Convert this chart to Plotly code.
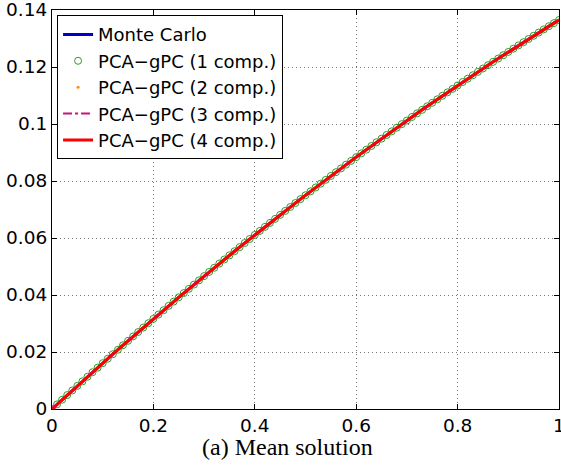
import plotly.graph_objects as go

x_vals = [0.00, 0.01, 0.02, 0.03, 0.04, 0.05, 0.06, 0.07, 0.08, 0.09,
          0.10, 0.11, 0.12, 0.13, 0.14, 0.15, 0.16, 0.17, 0.18, 0.19,
          0.20, 0.21, 0.22, 0.23, 0.24, 0.25, 0.26, 0.27, 0.28, 0.29,
          0.30, 0.31, 0.32, 0.33, 0.34, 0.35, 0.36, 0.37, 0.38, 0.39,
          0.40, 0.41, 0.42, 0.43, 0.44, 0.45, 0.46, 0.47, 0.48, 0.49,
          0.50, 0.51, 0.52, 0.53, 0.54, 0.55, 0.56, 0.57, 0.58, 0.59,
          0.60, 0.61, 0.62, 0.63, 0.64, 0.65, 0.66, 0.67, 0.68, 0.69,
          0.70, 0.71, 0.72, 0.73, 0.74, 0.75, 0.76, 0.77, 0.78, 0.79,
          0.80, 0.81, 0.82, 0.83, 0.84, 0.85, 0.86, 0.87, 0.88, 0.89,
          0.90, 0.91, 0.92, 0.93, 0.94, 0.95, 0.96, 0.97, 0.98, 0.99,
          1.00]

mean_monte_carlo = [0.00000, 0.00163, 0.00326, 0.00488, 0.00650, 0.00811, 0.00971, 0.01131, 0.01291, 0.01450,
                    0.01608, 0.01766, 0.01923, 0.02080, 0.02236, 0.02392, 0.02547, 0.02701, 0.02856, 0.03009,
                    0.03162, 0.03314, 0.03466, 0.03618, 0.03768, 0.03919, 0.04068, 0.04218, 0.04366, 0.04514,
                    0.04662, 0.04809, 0.04956, 0.05101, 0.05247, 0.05392, 0.05536, 0.05680, 0.05823, 0.05966,
                    0.06108, 0.06250, 0.06391, 0.06531, 0.06671, 0.06811, 0.06950, 0.07088, 0.07226, 0.07363,
                    0.07500, 0.07636, 0.07772, 0.07907, 0.08042, 0.08176, 0.08309, 0.08442, 0.08575, 0.08707,
                    0.08838, 0.08969, 0.09099, 0.09229, 0.09358, 0.09487, 0.09615, 0.09742, 0.09870, 0.09996,
                    0.10122, 0.10247, 0.10372, 0.10497, 0.10621, 0.10744, 0.10866, 0.10989, 0.11110, 0.11231,
                    0.11352, 0.11472, 0.11592, 0.11710, 0.11829, 0.11947, 0.12064, 0.12181, 0.12297, 0.12413,
                    0.12528, 0.12643, 0.12757, 0.12870, 0.12983, 0.13096, 0.13208, 0.13319, 0.13430, 0.13540,
                    0.13650]

# PCA-gPC approximations coincide with the Monte Carlo mean at plot resolution
mean_pca_1 = list(mean_monte_carlo)
mean_pca_2 = list(mean_monte_carlo)
mean_pca_3 = list(mean_monte_carlo)
mean_pca_4 = list(mean_monte_carlo)

x_ticks = [0, 0.2, 0.4, 0.6, 0.8, 1]
x_tick_text = ["0", "0.2", "0.4", "0.6", "0.8", "1"]
y_ticks = [0, 0.02, 0.04, 0.06, 0.08, 0.1, 0.12, 0.14]
y_tick_text = ["0", "0.02", "0.04", "0.06", "0.08", "0.1", "0.12", "0.14"]

SANS = "DejaVu Sans, Liberation Sans, Arial, sans-serif"

fig = go.Figure()
fig.add_trace(go.Scatter(x=x_vals, y=mean_monte_carlo, mode="lines", name="Monte Carlo",
                         line=dict(color="#0000c8", width=3)))
fig.add_trace(go.Scatter(x=x_vals, y=mean_pca_1, mode="markers", name="PCA\u2212gPC (1 comp.)",
                         marker=dict(symbol="circle-open", size=7, color="#2e9a2e", line=dict(width=1))))
fig.add_trace(go.Scatter(x=x_vals, y=mean_pca_2, mode="markers", name="PCA\u2212gPC (2 comp.)",
                         marker=dict(symbol="circle", size=3, color="#ff8c1a")))
fig.add_trace(go.Scatter(x=x_vals, y=mean_pca_3, mode="lines", name="PCA\u2212gPC (3 comp.)",
                         line=dict(color="#c8137a", width=2, dash="dashdot")))
fig.add_trace(go.Scatter(x=x_vals, y=mean_pca_4, mode="lines", name="PCA\u2212gPC (4 comp.)",
                         line=dict(color="#ff0000", width=3)))

axis_common = dict(
    showline=True, linecolor="black", linewidth=1, mirror="ticks",
    ticks="inside", ticklen=5, tickcolor="black",
    showgrid=True, gridcolor="#777777", griddash="1px,3px", gridwidth=1,
    zeroline=False, ticklabeloverflow="allow",
    tickfont=dict(family=SANS, size=18.5, color="black"),
)

fig.update_xaxes(range=[0, 1], tickvals=x_ticks, ticktext=x_tick_text, **axis_common)
fig.update_yaxes(range=[0, 0.14], tickvals=y_ticks, ticktext=y_tick_text, **axis_common)

fig.update_layout(
    width=561, height=466,
    margin=dict(l=52, r=2, t=10, b=57, autoexpand=False),
    paper_bgcolor="white", plot_bgcolor="white",
    showlegend=True,
    legend=dict(x=0.01, y=0.987, xanchor="left", yanchor="top",
                bgcolor="white", bordercolor="black", borderwidth=1,
                font=dict(family=SANS, size=18, color="black"),
                tracegroupgap=0, itemwidth=30),
    annotations=[dict(text="(a) Mean solution", xref="paper", yref="paper",
                      x=0.465, y=0, yshift=-23, xanchor="center", yanchor="top", showarrow=False,
                      font=dict(family="Liberation Serif, Times New Roman, serif", size=24, color="black"))],
)

fig.write_html("out.html")
